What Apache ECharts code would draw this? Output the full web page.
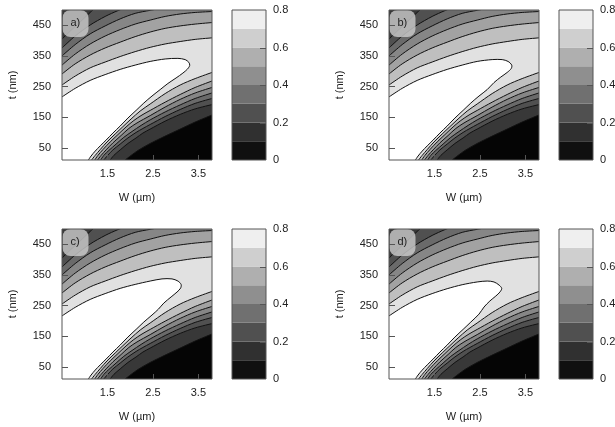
<!DOCTYPE html>
<html>
<head>
<meta charset="utf-8">
<script src="https://cdn.jsdelivr.net/npm/echarts@6/dist/echarts.min.js"></script>
<style>
  html, body { margin: 0; padding: 0; background: #fff; }
  #chart { width: 615px; height: 427px; }
</style>
</head>
<body>
<div id="chart"></div>
<script>
// axes
const W_RANGE = [0.5, 3.8];
const T_RANGE = [10, 500];
const W_TICKS = [1.5, 2.5, 3.5];
const T_TICKS = [50, 150, 250, 350, 450];
const CB_TICKS = [0, 0.2, 0.4, 0.6, 0.8];
const CB_MARKS = [0.2, 0.4, 0.6];
const CB_EDGES = [0, 0.1, 0.2, 0.3, 0.4, 0.5, 0.6, 0.7, 0.8];
const PANEL_LABELS = ['a)', 'b)', 'c)', 'd)'];

// contour levels
const LEVELS = [0.1, 0.2, 0.3, 0.4, 0.5, 0.6, 0.7, 0.8];

// upper-left branches [W (µm), t (nm)], starting on the left edge
const U02 = [[0.50, 405], [0.68, 431], [0.90, 461], [1.12, 492], [1.23, 507]];
const U03 = [[0.50, 376], [0.79, 415], [1.12, 451], [1.45, 479], [1.73, 498], [1.89, 507]];
const U04 = [[0.50, 350], [0.79, 387], [1.12, 422], [1.45, 448], [1.78, 471], [2.11, 489], [2.44, 499], [2.66, 505]];
const U05 = [[0.50, 320], [0.79, 356], [1.12, 389], [1.45, 415], [1.78, 436], [2.11, 454], [2.44, 467], [2.77, 479], [3.10, 487], [3.43, 492], [3.80, 495]];
const U06 = [[0.50, 291], [0.79, 324], [1.12, 353], [1.45, 376], [1.78, 395], [2.11, 413], [2.44, 428], [2.77, 440], [3.10, 448], [3.43, 454], [3.80, 459]];
const U07 = [[0.50, 255], [0.79, 284], [1.12, 311], [1.45, 330], [1.78, 348], [2.11, 364], [2.44, 378], [2.77, 389], [3.10, 397], [3.43, 404], [3.80, 409]];

// 0.8 contour per panel: left edge -> tip -> bottom edge
const C08_A = [[0.50, 216], [0.79, 244], [1.12, 270], [1.45, 289], [1.78, 306], [2.11, 320], [2.44, 332], [2.77, 340], [3.05, 342], [3.21, 338], [3.29, 329], [3.31, 319], [3.26, 307], [3.16, 294], [3.01, 278], [2.83, 260], [2.66, 240], [2.48, 219], [2.30, 196], [2.13, 172], [1.95, 147], [1.78, 121], [1.62, 98], [1.47, 75], [1.34, 56], [1.23, 39], [1.14, 23], [1.08, 10]];
const C08_B = [[0.50, 216], [0.79, 244], [1.12, 270], [1.45, 289], [1.78, 306], [2.11, 320], [2.44, 332], [2.77, 338], [2.99, 338], [3.12, 332], [3.20, 320], [3.19, 309], [3.10, 296], [2.96, 281], [2.81, 263], [2.66, 240], [2.48, 219], [2.30, 196], [2.13, 172], [1.95, 147], [1.78, 121], [1.62, 98], [1.47, 75], [1.34, 56], [1.23, 39], [1.14, 23], [1.08, 10]];
const C08_C = [[0.50, 216], [0.79, 244], [1.12, 270], [1.45, 289], [1.78, 306], [2.11, 319], [2.44, 330], [2.70, 337], [2.92, 337], [3.05, 330], [3.12, 319], [3.11, 307], [3.03, 294], [2.90, 278], [2.74, 258], [2.62, 238], [2.48, 219], [2.30, 196], [2.13, 172], [1.95, 147], [1.78, 121], [1.62, 98], [1.47, 75], [1.34, 56], [1.23, 39], [1.14, 23], [1.08, 10]];
const C08_D = [[0.50, 216], [0.79, 244], [1.12, 270], [1.45, 289], [1.78, 305], [2.11, 318], [2.44, 327], [2.66, 330], [2.81, 327], [2.92, 317], [2.98, 306], [2.94, 294], [2.85, 281], [2.72, 265], [2.59, 245], [2.48, 222], [2.30, 196], [2.13, 172], [1.95, 147], [1.78, 121], [1.62, 98], [1.47, 75], [1.34, 56], [1.23, 39], [1.14, 23], [1.08, 10]];

// lower-right branches, starting on the bottom edge
const L01 = [[1.89, 10], [2.02, 25], [2.17, 41], [2.44, 64], [2.77, 88], [3.10, 111], [3.43, 134], [3.80, 157]];
const L02 = [[1.56, 10], [1.64, 25], [1.78, 43], [1.95, 64], [2.13, 82], [2.28, 98], [2.44, 111], [2.77, 137], [3.10, 159], [3.43, 177], [3.80, 191]];
const L03 = [[1.42, 10], [1.51, 26], [1.62, 43], [1.78, 62], [1.95, 82], [2.13, 100], [2.28, 113], [2.44, 126], [2.77, 152], [3.10, 175], [3.43, 195], [3.80, 211]];
const L04 = [[1.35, 10], [1.42, 25], [1.53, 41], [1.69, 62], [1.86, 84], [2.04, 103], [2.24, 123], [2.44, 141], [2.77, 167], [3.10, 190], [3.43, 211], [3.80, 229]];
const L05 = [[1.28, 10], [1.36, 25], [1.47, 43], [1.62, 66], [1.80, 90], [1.97, 113], [2.15, 131], [2.44, 155], [2.77, 183], [3.10, 208], [3.43, 229], [3.80, 247]];
const L06 = [[1.22, 10], [1.29, 25], [1.40, 44], [1.56, 69], [1.73, 93], [1.91, 118], [2.08, 139], [2.26, 157], [2.44, 172], [2.77, 199], [3.10, 224], [3.43, 247], [3.80, 268]];
const L07 = [[1.15, 10], [1.23, 25], [1.34, 44], [1.49, 69], [1.67, 95], [1.84, 119], [2.02, 144], [2.22, 170], [2.44, 193], [2.77, 227], [3.10, 255], [3.43, 276], [3.80, 296]];

const PANEL_C08 = [C08_A, C08_B, C08_C, C08_D];
const LOWER = [L01, L02, L03, L04, L05, L06, L07, null];

// styles
const FILLS = ['#050505', '#383838', '#505050', '#6a6a6a', '#868686', '#a2a2a2', '#bfbfbf', '#e1e1e1', '#ffffff'];
const CB_FILLS = ['#101010', '#303030', '#505050', '#707070', '#8f8f8f', '#afafaf', '#cfcfcf', '#efefef'];
const FONT = 'Liberation Sans, Arial, sans-serif';
const TXT = '#222';
const FRAME = '#555';
const PLOT_POS = [[62, 10], [389, 10], [62, 229], [389, 229]];
const PW = 150, PH = 150, CB_DX = 170, CB_W = 34, CB_TICK_LEN = 6;

// region with value >= LEVELS[i]
function regionPoints(upper, i) {
  const up = upper[i], lo = LOWER[i];
  const pts = up ? up.slice() : [[W_RANGE[0], T_RANGE[1]]];
  if (pts[pts.length - 1][1] >= T_RANGE[1]) pts.push([W_RANGE[1], T_RANGE[1]]);
  if (lo) pts.push(...lo.slice().reverse());
  pts.push([W_RANGE[0], T_RANGE[0]]);
  return pts;
}

function buildShapes(c08) {
  const upper = [null, U02, U03, U04, U05, U06, U07, c08];
  const shapes = [{
    kind: 'fill', color: FILLS[0],
    pts: [[W_RANGE[0], T_RANGE[0]], [W_RANGE[1], T_RANGE[0]], [W_RANGE[1], T_RANGE[1]], [W_RANGE[0], T_RANGE[1]]]
  }];
  LEVELS.forEach((lv, i) => shapes.push({ kind: 'fill', color: FILLS[i + 1], pts: regionPoints(upper, i) }));
  upper.concat(LOWER).filter(Boolean).forEach(c => shapes.push({ kind: 'line', pts: c }));
  return shapes;
}

function contourRenderer(shapes) {
  return function (params, api) {
    const s = shapes[params.dataIndex];
    const cs = params.coordSys;
    const pts = s.pts.map(p => api.coord(p));
    const el = s.kind === 'fill'
      ? { type: 'polygon', shape: { points: pts }, style: { fill: s.color } }
      : { type: 'polyline', shape: { points: pts, smooth: 0.3 }, style: { fill: null, stroke: '#111', lineWidth: 1 } };
    return {
      type: 'group',
      clipPath: { type: 'rect', shape: { x: cs.x, y: cs.y, width: cs.width, height: cs.height } },
      children: [el]
    };
  };
}

// colorbar bands, with short marks on the right edge
function renderBar(params, api) {
  const i = params.dataIndex;
  const p0 = api.coord([0, CB_EDGES[i]]);
  const p1 = api.coord([1, CB_EDGES[i + 1]]);
  const children = [{
    type: 'rect',
    shape: { x: p0[0], y: p1[1], width: p1[0] - p0[0], height: p0[1] - p1[1] },
    style: { fill: CB_FILLS[i] }
  }];
  if (CB_MARKS.includes(CB_EDGES[i])) {
    const m = api.coord([1, CB_EDGES[i]]);
    children.push({
      type: 'line', z2: 10,
      shape: { x1: m[0] - CB_TICK_LEN, y1: Math.round(m[1]) + 0.5, x2: m[0], y2: Math.round(m[1]) + 0.5 },
      style: { stroke: FRAME, lineWidth: 1 }
    });
  }
  return { type: 'group', children };
}

const labelStyle = { fontFamily: FONT, fontSize: 11, color: TXT };
const grid = [], xAxis = [], yAxis = [], series = [], graphic = [];

PLOT_POS.forEach(([l, t], k) => {
  const shapes = buildShapes(PANEL_C08[k]);
  grid.push({ left: l, top: t, width: PW, height: PH, show: true, backgroundColor: 'transparent',
    borderColor: FRAME, borderWidth: 1, z: 10, outerBoundsMode: 'none' });
  xAxis.push({
    type: 'value', gridIndex: k, min: W_RANGE[0], max: W_RANGE[1], z: 10,
    axisLine: { show: false, onZero: false }, splitLine: { show: false },
    axisTick: { show: true, inside: true, length: 5, customValues: W_TICKS, lineStyle: { color: FRAME } },
    axisLabel: Object.assign({ customValues: W_TICKS, margin: 8 }, labelStyle),
    name: 'W (µm)', nameLocation: 'middle', nameGap: 32, nameTextStyle: labelStyle
  });
  yAxis.push({
    type: 'value', gridIndex: k, min: T_RANGE[0], max: T_RANGE[1], z: 10,
    axisLine: { show: false, onZero: false }, splitLine: { show: false },
    axisTick: { show: true, inside: true, length: 6, customValues: T_TICKS, lineStyle: { color: FRAME } },
    axisLabel: Object.assign({ customValues: T_TICKS, margin: 11 }, labelStyle),
    name: 't (nm)', nameLocation: 'middle', nameGap: 44, nameTextStyle: labelStyle
  });
  series.push({
    type: 'custom', xAxisIndex: k, yAxisIndex: k, silent: true, z: 2,
    renderItem: contourRenderer(shapes),
    data: shapes.map((s, i) => [W_RANGE[0], T_RANGE[0], i])
  });
  graphic.push({
    type: 'rect', left: l + 0.5, top: t, z: 6, silent: true,
    shape: { width: 26, height: 27, r: 8 }, style: { fill: 'rgba(205,205,205,0.8)' }
  });
  graphic.push({
    type: 'text', left: l + 8.5, top: t + 7.5, z: 7, silent: true,
    style: { text: PANEL_LABELS[k], font: '11px ' + FONT, fill: TXT }
  });
});

PLOT_POS.forEach(([l, t], k) => {
  const g = PLOT_POS.length + k;
  grid.push({ left: l + CB_DX, top: t, width: CB_W, height: PH, show: true, backgroundColor: 'transparent',
    borderColor: FRAME, borderWidth: 1, z: 10, outerBoundsMode: 'none' });
  xAxis.push({ type: 'value', gridIndex: g, min: 0, max: 1, show: false });
  yAxis.push({
    type: 'value', gridIndex: g, min: CB_EDGES[0], max: CB_EDGES[CB_EDGES.length - 1], position: 'right', z: 10,
    axisLine: { show: false, onZero: false }, splitLine: { show: false }, axisTick: { show: false },
    axisLabel: Object.assign({ customValues: CB_TICKS, margin: 7 }, labelStyle)
  });
  series.push({
    type: 'custom', xAxisIndex: g, yAxisIndex: g, silent: true, z: 2,
    renderItem: renderBar,
    data: CB_FILLS.map((c, i) => [0, CB_EDGES[i]])
  });
});

const chart = echarts.init(document.getElementById('chart'), null, { renderer: 'canvas' });
chart.setOption({ animation: false, backgroundColor: '#fff', grid, xAxis, yAxis, series, graphic });
</script>
</body>
</html>
